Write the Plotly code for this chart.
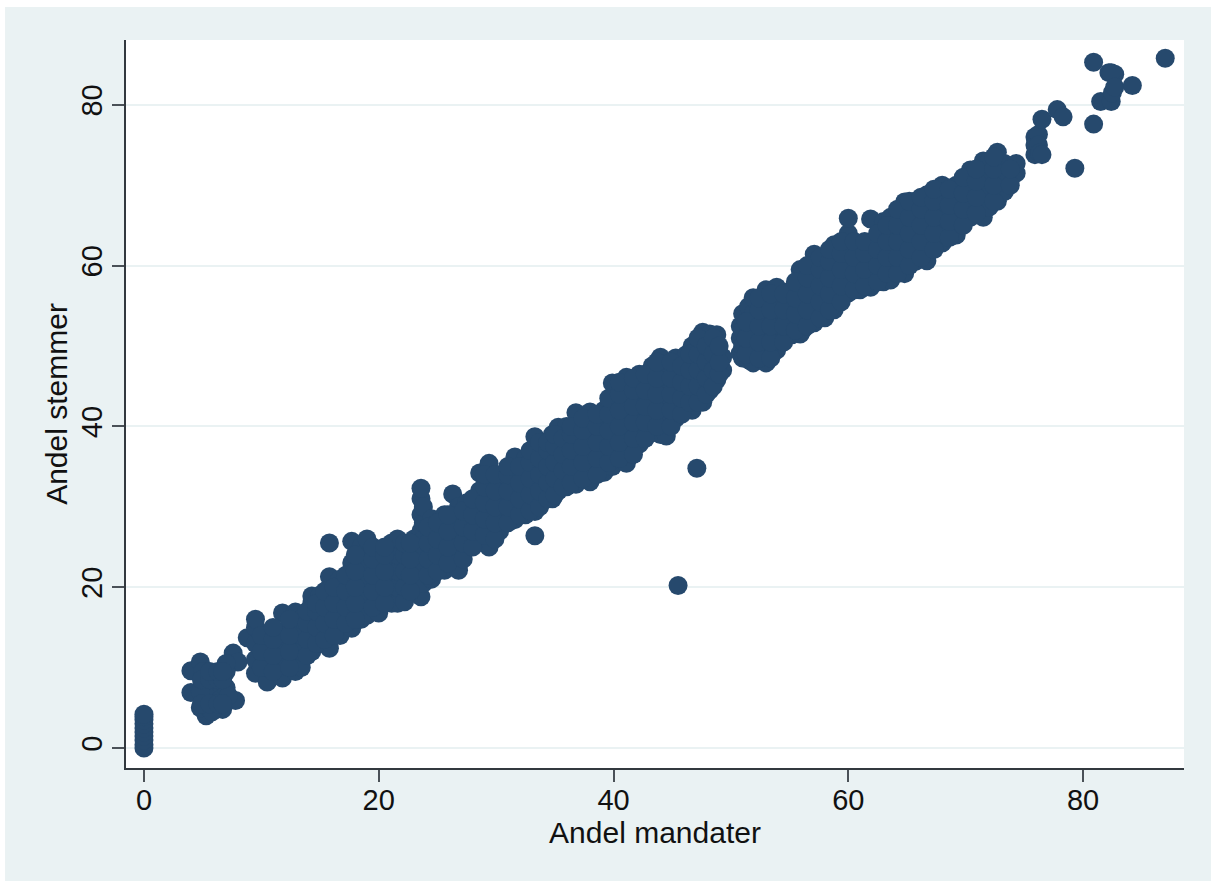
import plotly.graph_objects as go

# Columns of points: each x with the y values seen there
zero_y = [0, 0.4, 1, 1.5, 2, 2.5, 3, 3.5, 3.9, 4.2]
low_x = [4.0, 4.8, 4.0, 5.3, 6.7, 7.8, 7.6, 8.0, 4.8, 5, 5.5, 6, 6, 6.5, 6.5, 7, 7, 5, 4.8, 6, 5.5, 7, 5.8, 8.8, 7.2,
         4.9, 5.6, 6.3, 6.7, 4.9, 5.6, 6.3, 6.7, 5.6, 6.3, 6.7]
low_y = [9.6, 10.7, 6.9, 4.0, 4.8, 5.9, 11.8, 10.7, 5.0, 8, 6, 9, 7, 8, 6, 9.5, 7.5, 9.5, 7, 5, 5, 10.5, 4.5, 13.7, 6.5,
         5.5, 5.5, 5.5, 5.5, 8.5, 8.5, 8.5, 8.5, 9.5, 9.5, 9.5]

band = [
    (9.5, [9.3, 11, 13, 15, 16]), (10.5, [8.2, 10, 12, 14]), (11.8, [8.7, 10.5, 12.5, 14.5, 16.8]),
    (12.9, [9.5, 11.5, 13.5, 15.5, 16.9]), (13.4, [10, 12, 14, 16]), (14.3, [12, 14, 16, 18, 18.9]),
    (15, [13, 15, 17, 19]), (15.8, [12.4, 14, 16, 18, 20, 21.3, 25.5]), (16.7, [14, 16, 18, 20, 21]),
    (17.7, [14.9, 17, 19, 21, 23, 25.7]), (18.5, [16, 18, 20, 22, 24, 25]),
    (19, [16.5, 18.5, 20.5, 22.5, 24.5, 26]), (20, [16.8, 18.5, 20.5, 22.5, 24.5]),
    (21.1, [18, 20, 22, 24, 25.5]), (21.6, [18, 20, 22, 24, 26]), (22.2, [18.2, 20, 22, 24, 25.5]),
    (23, [20, 22, 24, 26]), (23.6, [18.8, 21, 23, 25, 27, 29, 31, 32.3]), (23.8, [20.5, 26, 28, 30]),
    (24.5, [21, 23, 25, 27, 28.5]), (25.6, [22.1, 24, 26, 28, 29]), (26.3, [23, 25, 27, 29, 31.6]),
    (26.8, [22.1, 24, 26, 28, 30]), (27.5, [25, 27, 29, 30.5]), (28.6, [26, 28, 30, 32, 34.2]),
    (29.4, [25, 27, 29, 31, 33, 35.4]), (30.3, [27, 29, 31, 33, 34]), (31.6, [28.4, 30, 32, 34, 36.2]),
    (32.5, [29, 31, 33, 35, 36]), (33.3, [26.4, 29.4, 31, 33, 35, 37, 38.7]), (34, [31, 33, 35, 37, 38]),
    (34.8, [31, 33, 35, 37, 39]), (35.3, [32, 34, 36, 38, 39.9]), (36, [32.5, 34, 36, 38, 40]),
    (36.8, [32.8, 35, 37, 39, 41.7]), (38, [33.1, 35, 37, 39, 41.8]), (39.2, [34.3, 36, 38, 40, 42]),
    (39.9, [35, 37, 39, 41, 43, 45.4]), (41.1, [35.4, 38, 40, 42, 44, 46.1]), (42.2, [37.8, 40, 42, 44, 46.5]),
    (43.3, [39.5, 41, 43, 45, 47.5]), (44, [39, 41, 43, 45, 47, 48.6]), (44.5, [38.8, 41, 43, 45, 47]),
    (45.3, [41, 43, 45, 47, 48.5]), (46.2, [42.5, 44, 46, 48, 48.9]), (46.7, [42, 44, 46, 48, 50]),
    (47.6, [43, 45, 47, 49, 51.7]), (48.2, [44.5, 46, 48, 50, 51.5]), (48.8, [45.8, 47, 49, 51.4]),
    (49.3, [47, 48.6]), (50.8, [49.1, 51, 52.5]), (51, [48.5, 50, 52, 54]), (51.5, [48.3, 50, 52, 54.9]),
    (51.9, [47.9, 50, 52, 54, 56]), (53, [47.9, 50, 52, 54, 56, 57]), (53.9, [49.5, 51, 53, 55, 57.3]),
    (55.2, [51.4, 53, 55, 57]), (55.9, [51.5, 53, 55, 57, 59.5]), (56.1, [52]),
    (57.1, [52.9, 55, 57, 59, 61.4]), (58, [53.5, 55, 57, 59, 61]), (58.8, [54.5, 56, 58, 60, 62.6]),
    (60, [56.6, 58, 60, 62, 64, 65.9]), (61, [57, 59, 61, 62.5]), (61.9, [57.3, 59, 61, 62.9, 65.8]),
    (63, [58, 60, 62, 64, 65.5]), (63.6, [58.2, 60, 62, 64, 66]), (64.8, [59, 61, 63, 65, 67.9]),
    (65.7, [60.5, 62, 64, 66, 68]), (66.7, [60.6, 63, 65, 67, 68.8]), (68, [62.8, 64, 66, 68, 70]),
    (69.2, [63.8, 66, 68, 70]), (70.4, [66, 68, 70, 71.9]), (71.5, [66, 68, 70, 72, 73]),
    (72, [67.3, 69, 71, 73]), (72.7, [68, 70, 72, 74.1]), (73.3, [69.2, 71, 72.7]), (74.3, [71.5, 72.7]),
]

# More points inside the dense band, where single marks overlap into a solid shape
dense = [
    (10, [10, 12, 14]), (11, [9.5, 11.5, 13.5, 15]), (12.4, [10, 12, 14, 16]), (13.9, [11.5, 13.5, 15.5, 17]),
    (14.7, [13, 15, 17, 18]), (15.4, [13.5, 15.5, 17.5, 19.5]), (16.2, [14, 16, 18, 20]),
    (17.2, [15.5, 17.5, 19.5, 21.5]), (18, [16, 18, 20, 22, 24]), (19.5, [17.5, 19.5, 21.5, 23.5, 25]),
    (20.5, [18, 20, 22, 24, 25]), (22.7, [19.5, 21.5, 23.5, 25.5]), (24.2, [21.5, 23.5, 25.5, 27.5]),
    (25, [22, 24, 26, 28]), (25.9, [23, 25, 27, 29]), (27.2, [23.5, 25.5, 27.5, 29.5]), (28, [25, 27, 29, 31]),
    (29, [26.5, 28.5, 30.5, 32.5, 34]), (29.9, [26, 28, 30, 32, 34]), (31, [28, 30, 32, 34, 35]),
    (32, [29, 31, 33, 35]), (32.9, [29.5, 31.5, 33.5, 35.5, 37]), (33.7, [30, 32, 34, 36, 38]),
    (34.4, [31, 33, 35, 37, 38]), (35, [31.5, 33.5, 35.5, 37.5, 39]), (35.7, [32.5, 34.5, 36.5, 38.5]),
    (36.4, [33, 35, 37, 39, 40]), (37.4, [33.5, 35.5, 37.5, 39.5, 41]), (38.6, [34, 36, 38, 40, 41.5]),
    (39.6, [35.5, 37.5, 39.5, 41.5, 43.5]), (40.5, [36, 38, 40, 42, 44, 45.5]),
    (41.7, [36.5, 38.5, 40.5, 42.5, 44.5, 46]), (42.7, [38.5, 40.5, 42.5, 44.5, 46.5]),
    (43.7, [40, 42, 44, 46, 48]), (44.9, [40, 42, 44, 46, 48]), (45.8, [41.5, 43.5, 45.5, 47.5]),
    (46.5, [43, 45, 47, 49]), (47.2, [43, 45, 47, 49, 51]), (47.9, [44, 46, 48, 50]), (48.5, [45, 47, 49, 51]),
    (49, [46.5, 48, 50]), (51.3, [49, 51, 53]), (52.4, [48.5, 50.5, 52.5, 54.5, 56]),
    (53.4, [48.5, 50.5, 52.5, 54.5, 56.5]), (54.5, [50.5, 52.5, 54.5, 56.5]), (55.5, [52, 54, 56, 58]),
    (56.5, [52.5, 54.5, 56.5, 58.5, 60]), (57.6, [53.5, 55.5, 57.5, 59.5, 61]),
    (58.4, [54.5, 56.5, 58.5, 60.5, 62]), (59.4, [55.5, 57.5, 59.5, 61.5, 63]), (60.5, [57, 59, 61, 63]),
    (61.4, [57.5, 59.5, 61.5, 63]), (62.5, [58, 60, 62, 64]), (63.3, [59, 61, 63, 65]),
    (64.2, [59, 61, 63, 65, 67]), (65.2, [60, 62, 64, 66, 68]), (66.2, [61, 63, 65, 67, 68.5]),
    (67.3, [62, 64, 66, 68, 69.5]), (68.6, [63.5, 65.5, 67.5, 69.5]), (69.8, [65, 67, 69, 71]),
    (70.9, [66.5, 68.5, 70.5, 72]), (72.4, [68, 70, 72, 73.5]), (73.8, [70, 72]),
]

top_x = [75.9, 75.9, 75.9, 76.2, 76.2, 76.3, 76.5, 76.5, 77.8, 78.3, 79.3, 80.9, 80.9, 81.5, 82.4, 82.2, 82.7, 82.5, 82.4, 82.7, 84.2, 87]
top_y = [76, 75, 73.8, 76.3, 75, 74, 73.8, 78.2, 79.4, 78.5, 72.1, 77.6, 85.3, 80.4, 80.4, 84, 83.8, 81.5, 84, 82.2, 82.4, 85.8]

outlier_x = [47.1, 45.5]
outlier_y = [34.8, 20.2]

columns = band + dense
x_values = [0] * len(zero_y) + low_x + [c for c, ys in columns for _ in ys] + top_x + outlier_x
y_values = zero_y + low_y + [v for _, ys in columns for v in ys] + top_y + outlier_y

x_ticks = [0, 20, 40, 60, 80]
y_ticks = [0, 20, 40, 60, 80]
x_title = "Andel mandater"
y_title = "Andel stemmer"

BG = "#eaf2f3"
MARK = "#26496d"
AXIS = "#33393f"
TICK_FONT = dict(family="Liberation Sans, Arial, sans-serif", size=29, color="#111111")
TITLE_FONT = dict(family="Liberation Sans, Arial, sans-serif", size=30, color="#111111")

fig = go.Figure(go.Scatter(
    x=x_values, y=y_values, mode="markers",
    marker=dict(size=19, color=MARK, line=dict(width=0)),
    showlegend=False, cliponaxis=False,
))

fig.update_layout(
    width=1211, height=881,
    margin=dict(l=126, r=27, t=40, b=113, pad=0),
    paper_bgcolor=BG, plot_bgcolor="white",
    font=TICK_FONT, showlegend=False,
    shapes=[
        dict(type="rect", xref="paper", yref="paper", x0=-0.2, x1=-0.1143, y0=-0.3, y1=1.2,
             fillcolor="white", line=dict(width=0), layer="above"),
        dict(type="rect", xref="paper", yref="paper", x0=-0.2, x1=1.1, y0=1.0453, y1=1.2,
             fillcolor="white", line=dict(width=0), layer="above"),
    ],
)
fig.update_xaxes(
    range=[-1.53, 88.6], tickmode="array", tickvals=x_ticks, ticks="outside", ticklen=12,
    tickwidth=2, tickcolor="#4a5157", showgrid=False, zeroline=False, showline=True,
    linecolor=AXIS, linewidth=2, tickfont=TICK_FONT, ticklabelstandoff=-7,
    title=dict(text=x_title, font=TITLE_FONT, standoff=2),
)
fig.update_yaxes(
    range=[-2.49, 88.06], tickmode="array", tickvals=y_ticks, ticks="outside", ticklen=12,
    tickwidth=2, tickcolor="#4a5157", tickangle=-90, showgrid=True, gridcolor=BG, gridwidth=2,
    zeroline=False, showline=True, linecolor=AXIS, linewidth=2, tickfont=TICK_FONT, ticklabelstandoff=-2,
    title=dict(text=y_title, font=TITLE_FONT, standoff=0),
)

fig.write_html("out.html", config={"displayModeBar": False},
               post_script="document.body.style.margin='0';window.dispatchEvent(new Event('resize'));")
